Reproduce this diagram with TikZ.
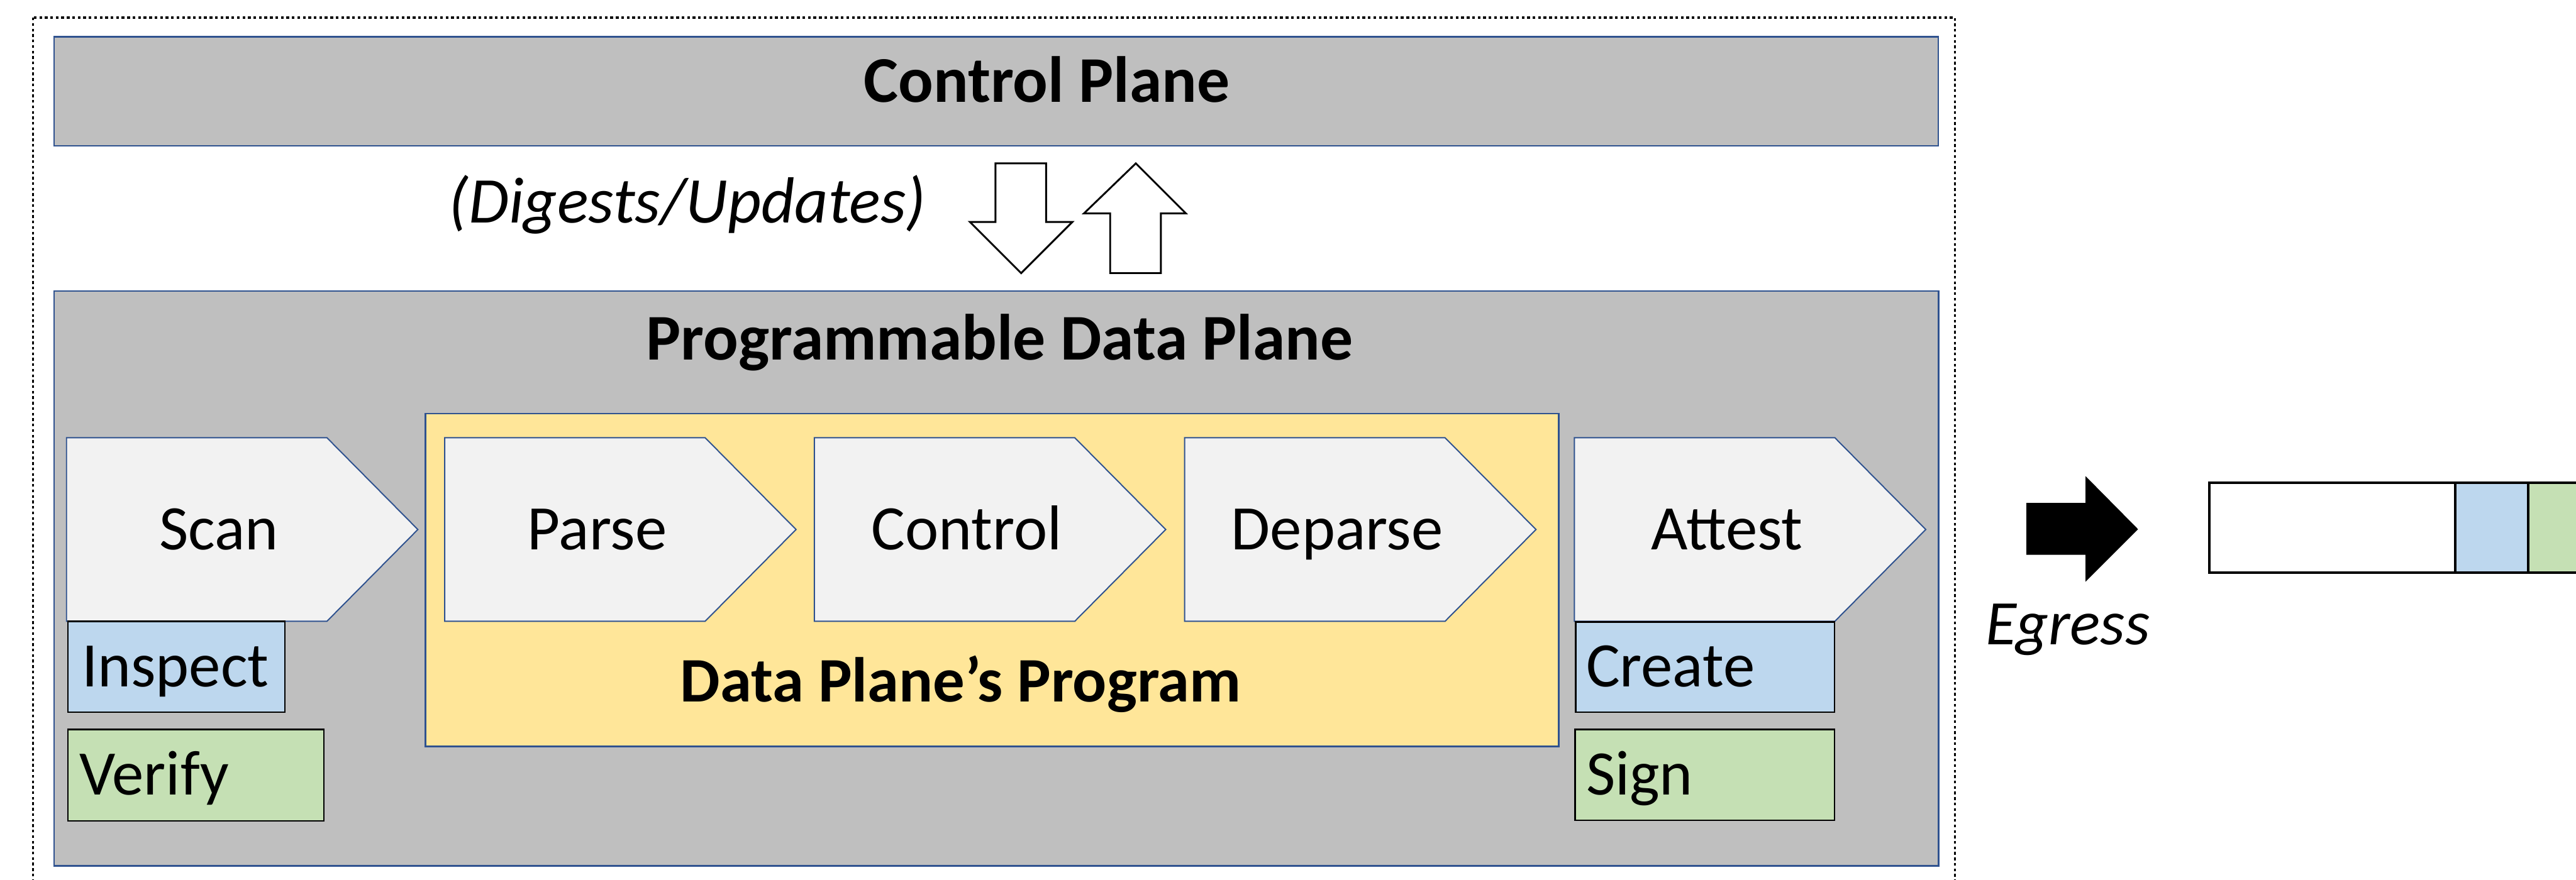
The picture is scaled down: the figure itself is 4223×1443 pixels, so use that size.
\documentclass[tikz,border=0pt]{standalone}
\usepackage{fontspec}
\setmainfont{Carlito}
\definecolor{panelgray}{HTML}{BFBFBF}
\definecolor{edgeblue}{HTML}{2F528F}
\definecolor{progyellow}{HTML}{FFE699}
\definecolor{stagefill}{HTML}{F2F2F2}
\definecolor{tagblue}{HTML}{BDD7EE}
\definecolor{taggreen}{HTML}{C5E0B4}
% one pipeline stage: a chevron with its label
\newcommand\pipestage[3]{%
  \draw[chevron] (#2,718) -- ++(427,0) -- ++(149,150.5) -- ++(-149,150.5) -- ++(-427,0) -- cycle;
  \node[stagetext, anchor=base] (#1) at ({#2+250},902) {#3};}
\begin{document}
\begin{tikzpicture}[x=1pt,y=-1pt,
  panel/.style={draw=edgeblue, line width=2.5pt, fill=panelgray, inner sep=0pt, anchor=north west},
  progbox/.style={draw=edgeblue, line width=2.5pt, fill=progyellow, inner sep=0pt, anchor=north west},
  tagbox/.style={draw=black, line width=2.5pt, inner sep=0pt, anchor=north west},
  chevron/.style={draw=edgeblue, line width=2pt, fill=stagefill},
  blockarrow/.style={draw=black, line width=3pt, fill=white, line join=miter},
  titletext/.style={font=\fontsize{107}{120}\selectfont\bfseries, inner sep=0pt},
  stagetext/.style={font=\fontsize{104}{120}\selectfont, inner sep=0pt},
  notetext/.style={font=\fontsize{107}{120}\selectfont\itshape, inner sep=0pt},
  cell/.style={draw=black, line width=4pt}]
\useasboundingbox (0,0) rectangle (4223,1443);
\clip (0,0) rectangle (4223,1443);

% dotted frame round the device
\draw[line width=3.5pt, dash pattern=on 4.5pt off 4.5pt] (54,29) rectangle (3205,1480);

% control plane
\node[panel, minimum width=3089pt, minimum height=179pt] (cp) at (87.5,59) {};
\node[titletext, anchor=base] (cptitle) at (1716,167.5) {Control Plane};

% digests go down, updates come up
\node[notetext, anchor=base] (digests) at (1127,365) {(Digests/Updates)};
\draw[blockarrow] (1632,268) -- (1715,268) -- (1715,364) -- (1758,364) -- (1674,448) -- (1590,364) -- (1632,364) -- cycle;
\draw[blockarrow] (1862,268) -- (1944,350) -- (1903,350) -- (1903,448) -- (1820,448) -- (1820,350) -- (1777,350) -- cycle;

% programmable data plane
\node[panel, minimum width=3089.5pt, minimum height=943pt] (pdp) at (87.5,476) {};
\node[titletext, anchor=base] (pdptitle) at (1639,590) {Programmable Data Plane};

% the data plane's program
\node[progbox, minimum width=1858pt, minimum height=546pt] (prog) at (696,677) {};
\node[titletext, anchor=base, font=\fontsize{104}{120}\selectfont\bfseries] (progtitle) at (1575,1151) {Data Plane’s Program};

% pipeline stages
\pipestage{scan}{109}{Scan}
\pipestage{parse}{729}{Parse}
\pipestage{control}{1335}{Control}
\pipestage{deparse}{1942}{Deparse}
\pipestage{attest}{2581}{Attest}

% sub-steps of scan and attest
\node[tagbox, fill=tagblue, minimum width=356pt, minimum height=149pt] (inspect) at (110,1018) {};
\node[stagetext, anchor=base west] (inspecttext) at (134,1126) {Inspect};
\node[tagbox, fill=taggreen, minimum width=420pt, minimum height=150pt] (verify) at (110,1195) {};
\node[stagetext, anchor=base west] (verifytext) at (130,1304) {Verify};
\node[tagbox, fill=tagblue, minimum width=424pt, minimum height=148pt] (create) at (2582,1019) {};
\node[stagetext, anchor=base west] (createtext) at (2600,1126) {Create};
\node[tagbox, fill=taggreen, minimum width=425pt, minimum height=149pt] (sign) at (2581,1195) {};
\node[stagetext, anchor=base west] (signtext) at (2600,1304) {Sign};

% egress arrow and outgoing packet
\fill[black] (3322,825) -- (3419,825) -- (3419,781) -- (3505,868) -- (3419,954) -- (3419,910) -- (3322,910) -- cycle;
\node[notetext, anchor=base, font=\fontsize{104}{120}\selectfont\itshape] (egress) at (3390,1057) {Egress};
\draw[cell, fill=white] (3622,792) rectangle (4025,939);
\draw[cell, fill=tagblue] (4025,792) rectangle (4145,939);
\draw[cell, fill=taggreen] (4145,792) rectangle (4260,939);
\end{tikzpicture}
\end{document}
